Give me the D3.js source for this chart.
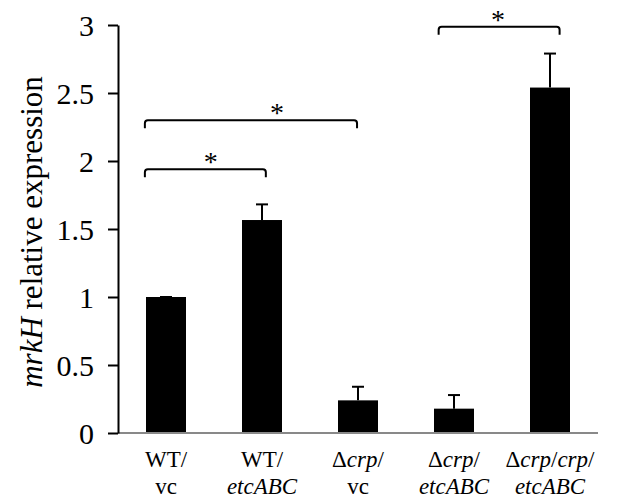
<!DOCTYPE html>
<html lang="en">
<head>
<meta charset="utf-8">
<title>mrkH expression</title>
<script src="https://d3js.org/d3.v7.min.js"></script>
<style>
  body{ margin:0; background:#fff; }
  svg text{ font-family:"Liberation Serif","Times New Roman",serif; fill:#000; }
</style>
</head>
<body>
<div id="chart"></div>
<script>
// data
var labelsTop = ["WT/", "WT/", "\u0394_crp_/", "\u0394_crp_/", "\u0394_crp_/_crp_/"]
var labelsBottom = ["vc", "_etcABC_", "vc", "_etcABC_", "_etcABC_"]
var values = [1.0, 1.566, 0.24, 0.179, 2.54]
var errors = [0, 0.115, 0.10, 0.10, 0.25]
var yTicks = [0, 0.5, 1, 1.5, 2, 2.5, 3]
// significance brackets, x in category units, y in data units
var bracketFrom = [-0.22, -0.22, 2.84]
var bracketTo = [1.04, 1.99, 4.10]
var bracketY = [1.94, 2.30, 2.988]
var starX = [0.466, 1.156, 3.458]

var width = 625, height = 503
var plotLeft = 118, plotRight = 598, plotTop = 25, plotBottom = 433
var serif = "Liberation Serif, Times New Roman, serif"

var svg = d3.select("#chart").append("svg")
    .attr("width", width).attr("height", height)
    .attr("font-family", serif)

var xc = d3.scaleLinear().domain([-0.5, values.length - 0.5]).range([plotLeft, plotRight])
var y = d3.scaleLinear().domain([0, 3]).range([plotBottom, plotTop])
var barW = 40

// bars
svg.selectAll("rect.bar").data(values).enter().append("rect")
    .attr("class", "bar")
    .attr("x", function(d, i){ return xc(i) - barW / 2 })
    .attr("width", barW)
    .attr("y", function(d){ return y(d) })
    .attr("height", function(d){ return y(0) - y(d) })
    .attr("fill", "#000")

// error bars
var eb = svg.selectAll("g.err").data(values).enter().append("g").attr("class", "err")
eb.append("line")
    .attr("x1", function(d, i){ return xc(i) }).attr("x2", function(d, i){ return xc(i) })
    .attr("y1", function(d){ return y(d) })
    .attr("y2", function(d, i){ return y(d + errors[i]) })
    .attr("stroke", "#000").attr("stroke-width", 2)
eb.append("line")
    .attr("x1", function(d, i){ return xc(i) - 6 }).attr("x2", function(d, i){ return xc(i) + 6 })
    .attr("y1", function(d, i){ return y(d + errors[i]) })
    .attr("y2", function(d, i){ return y(d + errors[i]) })
    .attr("stroke", "#000").attr("stroke-width", 2)

// baseline
svg.append("line")
    .attr("x1", plotLeft).attr("x2", plotRight)
    .attr("y1", y(0)).attr("y2", y(0))
    .attr("stroke", "#898989").attr("stroke-width", 2)

// y axis
var yAxis = svg.append("g")
    .attr("transform", "translate(" + plotLeft + ",0)")
    .call(d3.axisLeft(y).tickValues(yTicks).tickSize(10).tickSizeOuter(0).tickPadding(14).tickFormat(d3.format("")))
yAxis.select(".domain").attr("stroke", "#000").attr("stroke-width", 2)
yAxis.selectAll(".tick line").attr("stroke", "#000").attr("stroke-width", 2)
yAxis.selectAll(".tick text")
    .attr("font-size", 30)
    .attr("font-family", serif)
    .attr("dy", "0.34em")

// y label
var yl = svg.append("text")
    .attr("transform", "translate(42," + ((plotTop + plotBottom) / 2 + 3) + ") rotate(-90)")
    .attr("text-anchor", "middle")
    .attr("font-size", 31)
yl.append("tspan").attr("font-style", "italic").text("mrkH")
yl.append("tspan").text(" relative expression")

// x labels
function addSegments(textSel, str){
    str.split("_").forEach(function(s, k){
        if(s === "") return
        textSel.append("tspan").attr("font-style", k % 2 ? "italic" : "normal").text(s)
    })
}
labelsTop.forEach(function(lab, i){
    var t = svg.append("text").attr("x", xc(i)).attr("y", 467)
        .attr("text-anchor", "middle").attr("font-size", 23)
    addSegments(t, lab)
    var b = svg.append("text").attr("x", xc(i)).attr("y", 494)
        .attr("text-anchor", "middle").attr("font-size", 23)
    addSegments(b, labelsBottom[i])
})

// significance brackets
bracketY.forEach(function(by, i){
    var x0 = xc(bracketFrom[i]), x1 = xc(bracketTo[i]), yy = y(by), hook = 8, r = 3
    var p = d3.path()
    p.moveTo(x0, yy + hook)
    p.lineTo(x0, yy + r)
    p.quadraticCurveTo(x0, yy, x0 + r, yy)
    p.lineTo(x1 - r, yy)
    p.quadraticCurveTo(x1, yy, x1, yy + r)
    p.lineTo(x1, yy + hook)
    svg.append("path").attr("d", p.toString())
        .attr("fill", "none").attr("stroke", "#000").attr("stroke-width", 2)
    svg.append("text").attr("x", xc(starX[i])).attr("y", yy + 2)
        .attr("text-anchor", "middle").attr("font-size", 28).text("*")
})
</script>
</body>
</html>
